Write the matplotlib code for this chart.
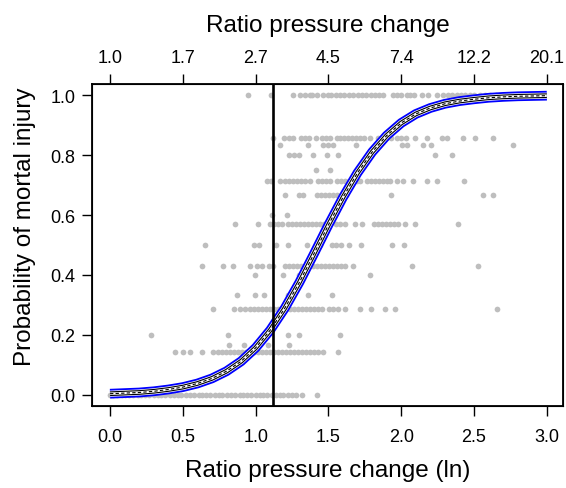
import numpy as np
import matplotlib
matplotlib.use("Agg")
import matplotlib.pyplot as plt

plt.rcParams['font.family'] = ['Liberation Sans', 'DejaVu Sans']

# observed proportions (y levels) and the ln-ratio positions of the points on each level
lvl_100 = [0.95, 1.106, 1.259, 1.305, 1.34, 1.37, 1.385, 1.42, 1.465, 1.497, 1.52, 1.55,
           1.58, 1.61, 1.64, 1.67, 1.70, 1.73, 1.76, 1.79, 1.82, 1.85, 1.875, 1.944, 1.97,
           2.0, 2.04, 2.06, 2.09, 2.14, 2.184, 2.244, 2.29, 2.32, 2.35, 2.38, 2.41, 2.44,
           2.47, 2.50, 2.54, 2.575, 2.61, 2.65, 2.70, 2.768, 2.837]
lvl_086 = [1.12, 1.195, 1.229, 1.257, 1.312, 1.339, 1.367, 1.415, 1.456, 1.484, 1.511,
           1.559, 1.58, 1.607, 1.635, 1.662, 1.69, 1.717, 1.745, 1.786, 1.841, 1.868,
           1.896, 1.93, 1.971, 1.999, 2.033, 2.095, 2.177, 2.28, 2.315, 2.424, 2.507, 2.63]
lvl_083 = [1.168, 1.36, 1.463, 1.497, 1.532, 1.69, 2.005, 2.04, 2.15, 2.205, 2.768]
lvl_080 = [1.229, 1.264, 1.298, 1.394, 1.49, 1.566, 2.232, 2.349]
lvl_075 = [1.415, 1.511]
lvl_071 = [1.078, 1.106, 1.168, 1.202, 1.229, 1.257, 1.284, 1.312, 1.339, 1.374, 1.429,
           1.456, 1.484, 1.511, 1.559, 1.587, 1.614, 1.641, 1.669, 1.696, 1.717, 1.765,
           1.793, 1.82, 1.848, 1.875, 1.902, 1.923, 1.971, 2.012, 2.081, 2.177, 2.246, 2.431]
lvl_067 = [1.202, 1.298, 1.326, 1.422, 1.449, 1.477, 1.504, 1.532, 1.559, 1.593, 1.621,
           1.93, 2.562, 2.63]
lvl_060 = [1.11, 1.214]
lvl_057 = [0.859, 1.016, 1.099, 1.126, 1.154, 1.181, 1.223, 1.25, 1.277, 1.305, 1.332,
           1.36, 1.387, 1.415, 1.442, 1.47, 1.511, 1.552, 1.58, 1.614, 1.683, 1.731,
           1.813, 1.841, 1.868, 1.896, 1.923, 1.951, 1.978, 2.026, 2.095, 2.39]
lvl_050 = [0.652, 0.989, 1.023, 1.14, 1.223, 1.353, 1.442, 1.525, 1.552, 1.587, 1.642,
           1.724, 1.937, 2.019]
lvl_043 = [0.632, 0.776, 0.845, 0.962, 1.01, 1.044, 1.092, 1.12, 1.202, 1.229, 1.257,
           1.284, 1.312, 1.339, 1.367, 1.394, 1.422, 1.449, 1.477, 1.504, 1.532, 1.559,
           1.587, 1.614, 1.669, 2.074, 2.527]
lvl_040 = [0.996, 1.188, 1.298, 1.786]
lvl_033 = [0.872, 0.996, 1.058, 1.223, 1.36, 1.525]
lvl_029 = [0.707, 0.852, 0.893, 0.927, 0.962, 0.989, 1.016, 1.044, 1.071, 1.099, 1.126,
           1.154, 1.181, 1.209, 1.236, 1.264, 1.291, 1.319, 1.346, 1.374, 1.401, 1.429,
           1.456, 1.504, 1.532, 1.566, 1.614, 1.717, 1.793, 1.889, 1.957, 2.658]
lvl_020 = [0.282, 0.81, 1.223, 1.298, 1.58]
lvl_017 = [0.817, 0.92, 1.085, 1.229]
lvl_014 = [0.446, 0.501, 0.549, 0.632, 0.707, 0.742, 0.769, 0.797, 0.824, 0.852, 0.879,
           0.907, 0.934, 0.962, 0.989, 1.016, 1.044, 1.071, 1.099, 1.126, 1.154, 1.181,
           1.209, 1.236, 1.264, 1.291, 1.319, 1.346, 1.374, 1.401, 1.429, 1.463, 1.566]
lvl_000 = [0.00, 0.02, 0.05, 0.08, 0.10, 0.13, 0.16, 0.19, 0.21, 0.24, 0.27, 0.30, 0.33,
           0.35, 0.38, 0.41, 0.44, 0.47, 0.49, 0.52, 0.55, 0.58, 0.61, 0.63, 0.66, 0.69,
           0.72, 0.75, 0.77, 0.80, 0.83, 0.86, 0.89, 0.91, 0.94, 0.97, 1.00, 1.03, 1.05,
           1.08, 1.11, 1.14, 1.17, 1.19, 1.22, 1.25, 1.28, 1.32, 1.42]

levels = [1.0, 6/7, 5/6, 4/5, 3/4, 5/7, 2/3, 3/5, 4/7, 1/2, 3/7, 2/5, 1/3, 2/7, 1/5, 1/6, 1/7, 0.0]
level_x = [lvl_100, lvl_086, lvl_083, lvl_080, lvl_075, lvl_071, lvl_067, lvl_060, lvl_057,
           lvl_050, lvl_043, lvl_040, lvl_033, lvl_029, lvl_020, lvl_017, lvl_014, lvl_000]

# fitted probability curve
curve_x = [0.0, 0.1, 0.2, 0.3, 0.4, 0.5, 0.6, 0.7, 0.8, 0.9, 1.0, 1.1, 1.2, 1.3, 1.4, 1.5,
           1.6, 1.7, 1.8, 1.9, 2.0, 2.1, 2.2, 2.3, 2.4, 2.5, 2.6, 2.7, 2.8, 2.9, 3.0]
curve_p = [0.004, 0.006, 0.008, 0.012, 0.018, 0.026, 0.038, 0.055, 0.079, 0.112, 0.157,
           0.216, 0.289, 0.375, 0.470, 0.567, 0.659, 0.741, 0.810, 0.865, 0.907, 0.937,
           0.957, 0.971, 0.980, 0.986, 0.991, 0.994, 0.996, 0.997, 0.998]

threshold = 1.12

x_ticks = [0.0, 0.5, 1.0, 1.5, 2.0, 2.5, 3.0]
x_labels = ['0.0', '0.5', '1.0', '1.5', '2.0', '2.5', '3.0']
top_labels = ['1.0', '1.7', '2.7', '4.5', '7.4', '12.2', '20.1']
y_ticks = [0.0, 0.2, 0.4, 0.6, 0.8, 1.0]
y_labels = ['0.0', '0.2', '0.4', '0.6', '0.8', '1.0']

fig = plt.figure(figsize=(5.66, 4.89), dpi=100)
ax = fig.add_axes([0.1625, 0.1677, 0.8322, 0.6585])

for lv, xs in zip(levels, level_x):
    ax.scatter(xs, [lv] * len(xs), s=17, color='#BEBEBE', linewidths=0, zorder=1)

# band: blue outer lines, black inner lines, dashed centre
ax.plot(curve_x, curve_p, color='blue', lw=7.0, solid_capstyle='butt', zorder=3)
ax.plot(curve_x, curve_p, color='white', lw=4.4, solid_capstyle='butt', zorder=4)
ax.plot(curve_x, curve_p, color='black', lw=3.4, solid_capstyle='butt', zorder=5)
ax.plot(curve_x, curve_p, color='white', lw=1.8, solid_capstyle='butt', zorder=6)
ax.plot(curve_x, curve_p, color='black', lw=0.8, ls=(0, (3, 2)), zorder=7)

ax.axvline(threshold, color='black', lw=1.9, zorder=8)

ax.set_xlim(-0.124, 3.111)
ax.set_ylim(-0.037, 1.037)
ax.set_xticks(x_ticks)
ax.set_xticklabels(x_labels)
ax.set_yticks(y_ticks)
ax.set_yticklabels(y_labels)
ax.tick_params(direction='out', length=7, width=1, labelsize=13)
ax.tick_params(axis='x', pad=9)
ax.tick_params(axis='y', pad=5)
ax.set_xlabel('Ratio pressure change (ln)', fontsize=17.5, labelpad=10)
ax.set_ylabel('Probability of mortal injury', fontsize=17.5)
ax.yaxis.set_label_coords(-0.118, 0.56)
for sp in ax.spines.values():
    sp.set_linewidth(1.3)

ax_top = ax.twiny()
ax_top.set_xlim(ax.get_xlim())
ax_top.set_xticks(x_ticks)
ax_top.set_xticklabels(top_labels)
ax_top.tick_params(direction='out', length=7, width=1, labelsize=13, pad=6)
ax_top.set_xlabel('Ratio pressure change', fontsize=17.5, labelpad=13)

fig.savefig('out.png', dpi=100)
